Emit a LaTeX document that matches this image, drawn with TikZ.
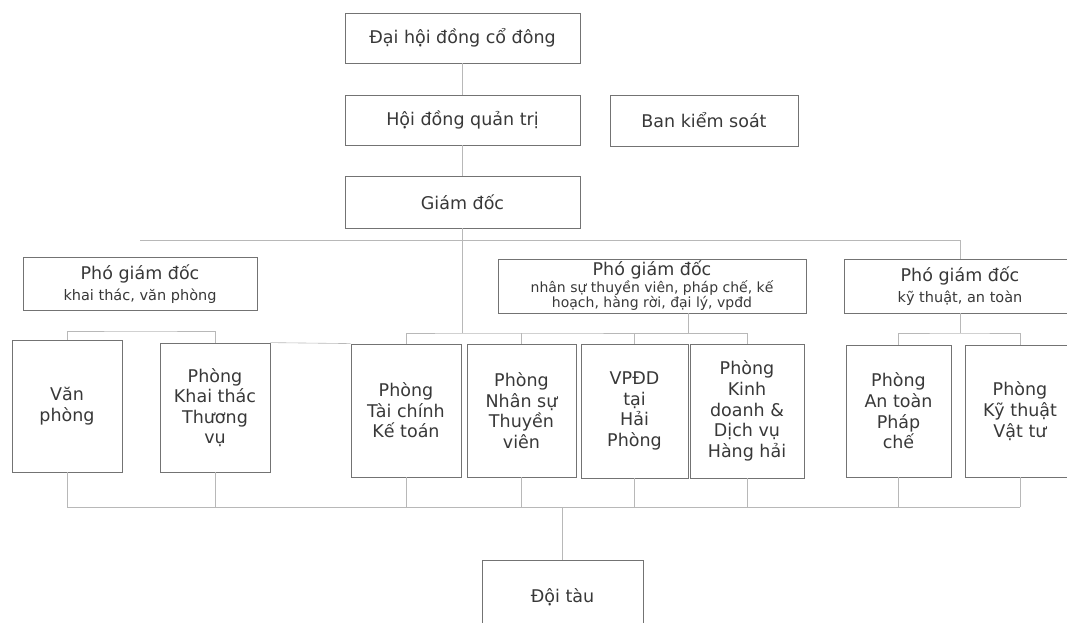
\documentclass[tikz,border=0pt]{standalone}
\usepackage{fontspec}
\setmainfont{DejaVu Sans}

\begin{document}
\begin{tikzpicture}[x=1pt,y=-1pt,
    box/.style={draw=black!55,line width=0.8pt,text=black!78,inner sep=0pt,
      align=center,font=\fontsize{17.5}{20.6}\selectfont},
    link/.style={draw=black!28,line width=0.6pt}]

\useasboundingbox (0,0) rectangle (1067,623);
\clip (0,0) rectangle (1067,623);

% cap tren
\node[box,minimum width=235pt,minimum height=50pt] (dhd) at (462.5,38) {Đại hội đồng cổ đông};
\node[box,minimum width=235pt,minimum height=50pt] (hdqt) at (462.5,120) {Hội đồng quản trị};
\node[box,minimum width=188pt,minimum height=51pt] (bks) at (704,120.5) {Ban kiểm soát};
\node[box,minimum width=235pt,minimum height=52pt] (gd) at (462.5,202) {Giám đốc};

% pho giam doc
\node[box,minimum width=234pt,minimum height=53pt,font=\fontsize{14.5}{14}\selectfont] (pgdA) at (140,284)
  {{\fontsize{17.5}{19}\selectfont Phó giám đốc}\\[4pt]khai thác, văn phòng};
\node[box,minimum width=308pt,minimum height=54pt,font=\fontsize{14}{15.5}\selectfont] (pgdB) at (652,286)
  {{\fontsize{17.5}{19}\selectfont Phó giám đốc}\\[1pt]nhân sự thuyền viên, pháp chế, kế\\
   hoạch, hàng rời, đại lý, vpđd};
\node[box,minimum width=232pt,minimum height=54pt,font=\fontsize{14.5}{14}\selectfont] (pgdC) at (960,286)
  {{\fontsize{17.5}{19}\selectfont Phó giám đốc}\\[4pt]kỹ thuật, an toàn};

% cac phong
\node[box,minimum width=110pt,minimum height=132pt] (vp) at (67,406) {Văn\\phòng};
\node[box,minimum width=110pt,minimum height=129pt] (ktac) at (215,407.5) {Phòng\\Khai thác\\Thương\\vụ};
\node[box,minimum width=110pt,minimum height=133pt] (tc) at (406,410.5) {Phòng\\Tài chính\\Kế toán};
\node[box,minimum width=109pt,minimum height=133pt] (ns) at (521.5,410.5) {Phòng\\Nhân sự\\Thuyền\\viên};
\node[box,minimum width=107pt,minimum height=134pt] (vpdd) at (634.5,411) {VPĐD\\tại\\Hải\\Phòng};
\node[box,minimum width=114pt,minimum height=134pt] (kd) at (747,411) {Phòng\\Kinh\\doanh \&\\Dịch vụ\\Hàng hải};
\node[box,minimum width=105pt,minimum height=132pt] (antoan) at (898.5,411) {Phòng\\An toàn\\Pháp\\chế};
\node[box,minimum width=110pt,minimum height=132pt] (kythuat) at (1020,411) {Phòng\\Kỹ thuật\\Vật tư};

\node[box,minimum width=161pt,minimum height=74pt] (doitau) at (562.5,597) {Đội tàu};

% duong noi
\coordinate (topL) at (140,240);
\coordinate (topR) at (960,240);
\coordinate (brA) at (140,331);
\coordinate (brB) at (462.5,333);
\coordinate (brC) at (960,333);
\coordinate (bus) at (562.5,507);

\draw[link] (dhd) -- (hdqt);
\draw[link] (hdqt) -- (gd);
\draw[link] (gd.south) -- (brB);
\draw[link] (topL) -- (topR) -- (pgdC.north);

\draw[link] (vp.north) |- (brA) -| (ktac.north);
\draw[link] (ktac.north east) -- (tc.north west);
\draw[link] (tc.north) |- (brB) -| (kd.north);
\draw[link] (ns.north) -- (ns.north |- brB);
\draw[link] (vpdd.north) -- (vpdd.north |- brB);
\draw[link] ([xshift=36pt]pgdB.south) -- ([xshift=36pt]pgdB.south |- brB);
\draw[link] (pgdC.south) -- (brC);
\draw[link] (antoan.north) |- (brC) -| (kythuat.north);

\foreach \p in {vp,ktac,tc,ns,vpdd,kd,antoan,kythuat}
  \draw[link] (\p.south) -- (\p.south |- bus);
\draw[link] (vp.south |- bus) -- (kythuat.south |- bus);
\draw[link] (bus) -- (doitau.north);

\end{tikzpicture}
\end{document}
